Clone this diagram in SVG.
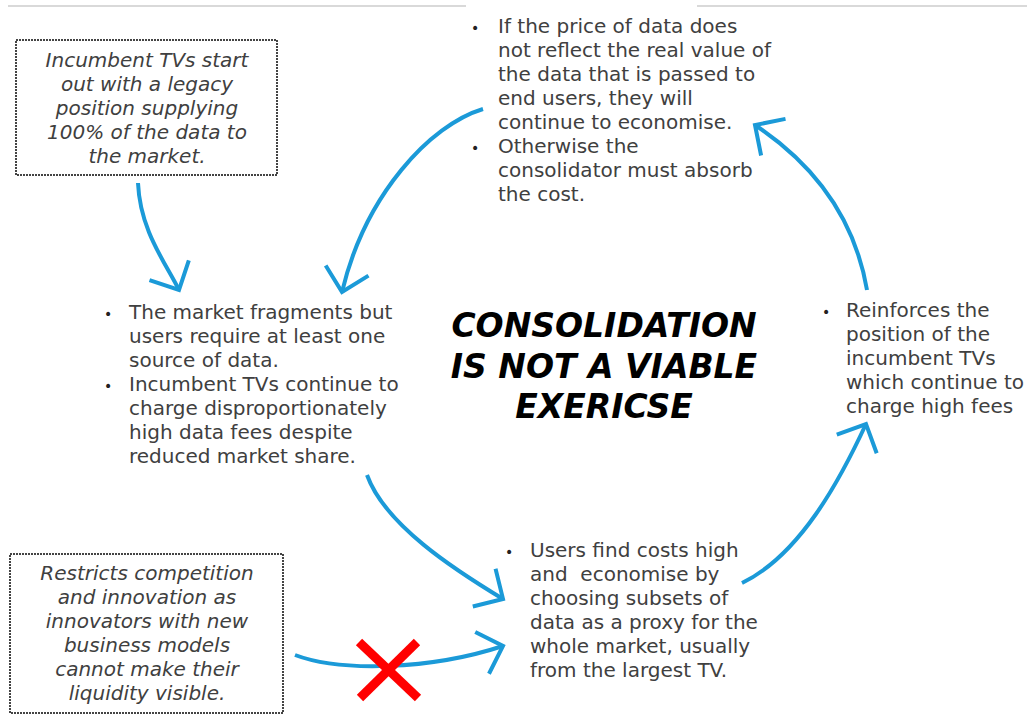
<svg xmlns="http://www.w3.org/2000/svg" width="1027" height="728" viewBox="0 0 1027 728">
<style>
.body{font-family:"DejaVu Sans","Liberation Sans",sans-serif;font-size:20px;fill:#404040}
.ital{font-family:"DejaVu Sans","Liberation Sans",sans-serif;font-size:20px;font-style:italic;fill:#404040;text-anchor:middle}
.title{font-family:"DejaVu Sans","Liberation Sans",sans-serif;font-size:33px;font-weight:bold;font-style:italic;fill:#000;text-anchor:middle}
.bul{font-family:"DejaVu Sans",sans-serif;font-size:14px;fill:#222}
.box{fill:#fff;stroke:#444;stroke-width:2;stroke-dasharray:2 1}
.arr{fill:none;stroke:#1B9AD8;stroke-width:4;marker-end:url(#head)}
.rule{stroke:#d9d9d9;stroke-width:2}
.x{stroke:#ff0000;stroke-width:9}
</style>
<defs>
<marker id="head" markerUnits="userSpaceOnUse" viewBox="-30 -30 40 60" refX="0" refY="0" markerWidth="40" markerHeight="60" orient="auto">
<path d="M-22,-22 L0,0 L-22,22" fill="none" stroke="#1B9AD8" stroke-width="4"/>
</marker>
</defs>
<rect width="1027" height="728" fill="#fff"/>
<line class="rule" x1="8" y1="6" x2="466" y2="6"/>
<line class="rule" x1="697" y1="6" x2="1027" y2="6"/>

<g id="connectors">
<path class="arr" d="M138,183 C140,230 165,262 179,290"/>
<path class="arr" d="M483,109 C430,125 365,195 342,292"/>
<path class="arr" d="M867,290 C855,220 815,165 755,125"/>
<path class="arr" d="M742,583 C800,555 840,480 866,424"/>
<path class="arr" d="M367,475 C385,525 455,570 503,599"/>
<path class="arr" d="M295,655 C340,672 430,670 503,646"/>
<g id="blocked">
<line class="x" x1="359" y1="642" x2="418" y2="698"/>
<line class="x" x1="417" y1="642" x2="360" y2="698"/>
</g>
</g>

<g id="start-box">
<rect class="box" x="16" y="40" width="261" height="135"/>
<text class="ital" x="147" y="67">Incumbent TVs start</text>
<text class="ital" x="147" y="91">out with a legacy</text>
<text class="ital" x="147" y="115">position supplying</text>
<text class="ital" x="147" y="139">100% of the data to</text>
<text class="ital" x="147" y="163">the market.</text>
</g>

<g id="price-node">
<text class="bul" x="471" y="33">•</text>
<text class="bul" x="471" y="153">•</text>
<text class="body" x="498" y="33">If the price of data does</text>
<text class="body" x="498" y="57">not reflect the real value of</text>
<text class="body" x="498" y="81">the data that is passed to</text>
<text class="body" x="498" y="105">end users, they will</text>
<text class="body" x="498" y="129">continue to economise.</text>
<text class="body" x="498" y="153">Otherwise the</text>
<text class="body" x="498" y="177">consolidator must absorb</text>
<text class="body" x="498" y="201">the cost.</text>
</g>

<g id="fragment-node">
<text class="bul" x="104" y="319">•</text>
<text class="bul" x="104" y="391">•</text>
<text class="body" x="129" y="319">The market fragments but</text>
<text class="body" x="129" y="343">users require at least one</text>
<text class="body" x="129" y="367">source of data.</text>
<text class="body" x="129" y="391">Incumbent TVs continue to</text>
<text class="body" x="129" y="415">charge disproportionately</text>
<text class="body" x="129" y="439">high data fees despite</text>
<text class="body" x="129" y="463">reduced market share.</text>
</g>

<g id="title">
<text class="title" x="604" y="337">CONSOLIDATION</text>
<text class="title" x="604" y="378">IS NOT A VIABLE</text>
<text class="title" x="604" y="418">EXERICSE</text>
</g>

<g id="reinforce-node">
<text class="bul" x="822" y="317">•</text>
<text class="body" x="846" y="317">Reinforces the</text>
<text class="body" x="846" y="341">position of the</text>
<text class="body" x="846" y="365">incumbent TVs</text>
<text class="body" x="846" y="389">which continue to</text>
<text class="body" x="846" y="413">charge high fees</text>
</g>

<g id="users-node">
<text class="bul" x="505" y="557">•</text>
<text class="body" x="530" y="557">Users find costs high</text>
<text class="body" x="530" y="581" xml:space="preserve">and  economise by</text>
<text class="body" x="530" y="605">choosing subsets of</text>
<text class="body" x="530" y="629">data as a proxy for the</text>
<text class="body" x="530" y="653">whole market, usually</text>
<text class="body" x="530" y="677">from the largest TV.</text>
</g>

<g id="restrict-box">
<rect class="box" x="10" y="554" width="273" height="159"/>
<text class="ital" x="147" y="580">Restricts competition</text>
<text class="ital" x="147" y="604">and innovation as</text>
<text class="ital" x="147" y="628">innovators with new</text>
<text class="ital" x="147" y="652">business models</text>
<text class="ital" x="147" y="676">cannot make their</text>
<text class="ital" x="147" y="700">liquidity visible.</text>
</g>
</svg>
